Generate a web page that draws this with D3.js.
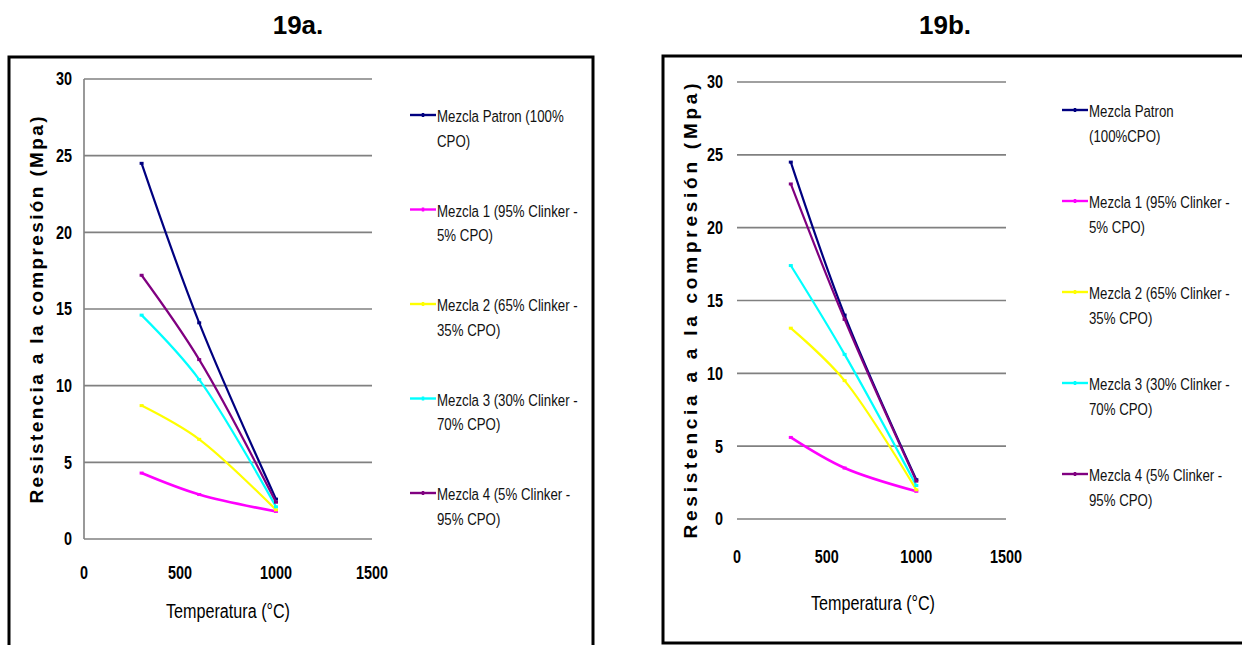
<!DOCTYPE html>
<html>
<head>
<meta charset="utf-8">
<script src="https://cdn.jsdelivr.net/npm/d3@7"></script>
<style>
  html, body { margin: 0; padding: 0; background: #fff; }
  svg { display: block; }
  .narrow { font-family: 'Liberation Sans Narrow', 'Arial Narrow', 'Liberation Sans', Arial, sans-serif; }
  .wide { font-family: 'Liberation Sans', Arial, sans-serif; }
</style>
</head>
<body>
<svg id="chart" width="1242" height="645"></svg>
<script>
// ---------------- DATA ----------------
const temperatures = [300, 600, 1000];           // °C
const xTicks = [0, 500, 1000, 1500];
const yTicks = [0, 5, 10, 15, 20, 25, 30];
const seriesColors = ["#000080", "#FF00FF", "#FFFF00", "#00FFFF", "#800080"];

// 19a
const a_patron = [24.5, 14.1, 2.6];
const a_mezcla1 = [4.3, 2.9, 1.8];
const a_mezcla2 = [8.7, 6.5, 1.9];
const a_mezcla3 = [14.6, 10.4, 2.1];
const a_mezcla4 = [17.2, 11.7, 2.4];
const legendA = [
  ["Mezcla Patron (100%", "CPO)"],
  ["Mezcla 1 (95% Clinker -", "5% CPO)"],
  ["Mezcla 2 (65% Clinker -", "35% CPO)"],
  ["Mezcla 3 (30% Clinker -", "70% CPO)"],
  ["Mezcla 4 (5% Clinker -", "95% CPO)"]
];

// 19b
const b_patron = [24.5, 14.0, 2.7];
const b_mezcla1 = [5.6, 3.5, 1.9];
const b_mezcla2 = [13.1, 9.5, 2.0];
const b_mezcla3 = [17.4, 11.3, 2.3];
const b_mezcla4 = [23.0, 13.7, 2.6];
const legendB = [
  ["Mezcla Patron", "(100%CPO)"],
  ["Mezcla 1 (95% Clinker -", "5% CPO)"],
  ["Mezcla 2 (65% Clinker -", "35% CPO)"],
  ["Mezcla 3 (30% Clinker -", "70% CPO)"],
  ["Mezcla 4 (5% Clinker -", "95% CPO)"]
];

const xTitle = "Temperatura (°C)";
const yTitleA = "Resistencia  a la compresión (Mpa)";
const yTitleB = "Resistencia a a la compresión (Mpa)";

// ---------------- DRAW ----------------
const svg = d3.select("#chart");
const NARROW = 0.8;

function narrowText(sel, x, y) {
  return sel.attr("transform", `translate(${x},${y}) scale(${NARROW},1)`);
}

function drawChart(cfg) {
  const g = svg.append("g");
  g.append("rect")
    .attr("x", cfg.frame[0]).attr("y", cfg.frame[1])
    .attr("width", cfg.frame[2]).attr("height", cfg.frame[3])
    .attr("fill", "#fff").attr("stroke", "#000").attr("stroke-width", 3);

  svg.append("text")
    .attr("x", cfg.titlePos[0]).attr("y", cfg.titlePos[1])
    .attr("text-anchor", "middle")
    .attr("class", "wide")
    .style("font-size", "26px").style("font-weight", "bold")
    .text(cfg.title);

  const x = d3.scaleLinear().domain([0, 1500]).range(cfg.xRange);
  const y = d3.scaleLinear().domain([0, 30]).range(cfg.yRange);

  g.append("g").selectAll("line").data(yTicks).join("line")
    .attr("x1", x(0)).attr("x2", x(1500))
    .attr("y1", d => y(d)).attr("y2", d => y(d))
    .attr("stroke", "#808080").attr("stroke-width", 1.6);

  if (cfg.yAxisLine) {
    g.append("line")
      .attr("x1", x(0)).attr("x2", x(0))
      .attr("y1", y(30)).attr("y2", y(0))
      .attr("stroke", "#808080").attr("stroke-width", 1.6);
  }

  g.append("g").selectAll("text").data(yTicks).join("text")
    .attr("class", "narrow")
    .each(function(d) { narrowText(d3.select(this), cfg.yLabelX, y(d)); })
    .attr("dy", "0.36em")
    .attr("text-anchor", "end")
    .style("font-size", "18px").style("font-weight", "bold")
    .text(d => d);

  g.append("g").selectAll("text").data(xTicks).join("text")
    .attr("class", "narrow")
    .each(function(d) { narrowText(d3.select(this), x(d), cfg.xLabelY); })
    .attr("text-anchor", "middle")
    .style("font-size", "18px").style("font-weight", "bold")
    .text(d => d);

  g.append("text")
    .attr("class", "narrow")
    .attr("x", cfg.xTitlePos[0]).attr("y", cfg.xTitlePos[1])
    .attr("text-anchor", "middle")
    .attr("textLength", 124).attr("lengthAdjust", "spacingAndGlyphs")
    .style("font-size", "20px")
    .text(xTitle);

  g.append("text")
    .attr("class", "wide")
    .attr("transform", `translate(${cfg.yTitlePos[0]},${cfg.yTitlePos[1]}) rotate(-90)`)
    .attr("text-anchor", "middle")
    .attr("dy", "0.35em")
    .attr("textLength", cfg.yTitleLen).attr("lengthAdjust", "spacing")
    .style("font-size", "19px").style("font-weight", "bold")
    .text(cfg.yTitle);

  const line = d3.line()
    .x((d, i) => x(temperatures[i]))
    .y(d => y(d))
    .curve(d3.curveCatmullRom.alpha(0.5));

  cfg.series.forEach((vals, si) => {
    g.append("path")
      .datum(vals)
      .attr("d", line)
      .attr("fill", "none")
      .attr("stroke", seriesColors[si])
      .attr("stroke-width", si === 1 ? 2.6 : 2.2);
    g.append("g").selectAll("line").data(vals).join("line")
      .attr("x1", (d, i) => x(temperatures[i]) - 2)
      .attr("x2", (d, i) => x(temperatures[i]) + 2)
      .attr("y1", d => y(d)).attr("y2", d => y(d))
      .attr("stroke", seriesColors[si]).attr("stroke-width", 3);
  });

  const leg = g.append("g");
  cfg.legend.forEach((lines, i) => {
    const by = cfg.legendY0 + i * cfg.legendStep;
    const ly = by - 7;
    leg.append("line")
      .attr("x1", cfg.legendX).attr("x2", cfg.legendX + 26)
      .attr("y1", ly).attr("y2", ly)
      .attr("stroke", seriesColors[i]).attr("stroke-width", 2.4);
    leg.append("line")
      .attr("x1", cfg.legendX + 13).attr("x2", cfg.legendX + 13)
      .attr("y1", ly - 2).attr("y2", ly + 2)
      .attr("stroke", seriesColors[i]).attr("stroke-width", 2.5);
    lines.forEach((t, j) => {
      leg.append("text")
        .attr("class", "narrow")
        .attr("transform", `translate(${cfg.legendX + 27},${by + j * 24.5}) scale(0.78,1)`)
        .style("font-size", "17px")
        .attr("fill", "#111")
        .text(t);
    });
  });
}

drawChart({
  title: "19a.",
  titlePos: [298, 34],
  frame: [9, 57, 584, 600],
  xRange: [84, 372],
  yRange: [539, 79],
  yAxisLine: true,
  yLabelX: 72,
  xLabelY: 579,
  xTitlePos: [228, 618],
  yTitlePos: [36, 310],
  yTitleLen: 387,
  yTitle: yTitleA,
  series: [a_patron, a_mezcla1, a_mezcla2, a_mezcla3, a_mezcla4],
  legend: legendA,
  legendX: 410,
  legendY0: 122,
  legendStep: 94.5
});

drawChart({
  title: "19b.",
  titlePos: [945, 34],
  frame: [663, 56, 600, 587],
  xRange: [737, 1006],
  yRange: [519, 82],
  yAxisLine: false,
  yLabelX: 723,
  xLabelY: 563,
  xTitlePos: [873, 610],
  yTitlePos: [690, 311],
  yTitleLen: 455,
  yTitle: yTitleB,
  series: [b_patron, b_mezcla1, b_mezcla2, b_mezcla3, b_mezcla4],
  legend: legendB,
  legendX: 1062,
  legendY0: 117,
  legendStep: 91
});
</script>
</body>
</html>
